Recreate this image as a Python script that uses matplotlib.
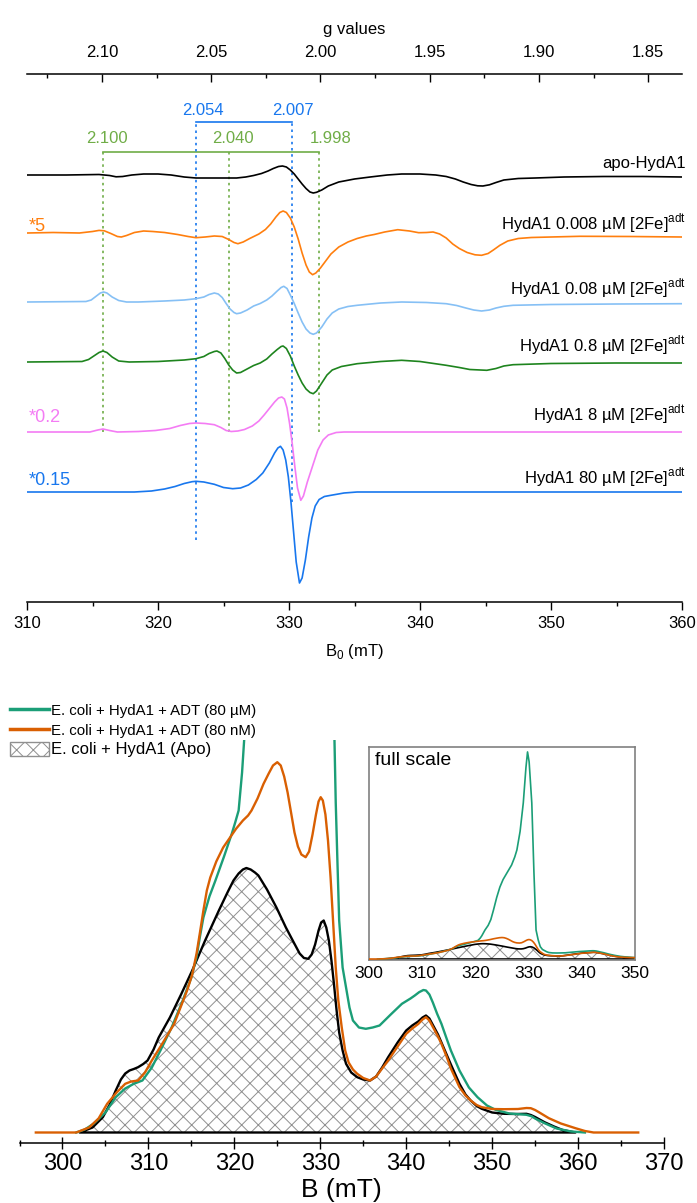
import numpy as np
import matplotlib
matplotlib.use('Agg')
import matplotlib.pyplot as plt
from matplotlib.lines import Line2D
from matplotlib.patches import Patch
from matplotlib.ticker import MultipleLocator, FixedLocator, FormatStrFormatter

plt.rcParams['font.family'] = ['Liberation Sans', 'DejaVu Sans']
plt.rcParams['mathtext.fontset'] = 'custom'
plt.rcParams['mathtext.rm'] = 'Liberation Sans'
plt.rcParams['hatch.linewidth'] = 0.7

# ---- top panel: CW EPR derivative spectra (B in mT, amplitude in arbitrary units)
apo = [(310, 0), (313, 0), (315.5, 0.5), (316.3, -0.5), (316.8, -1.8), (317.3, -1.5),
       (318.0, 0), (318.9, 1), (320.0, 1), (321.0, 0), (322.0, -2), (322.9, -3), (324.5, -3),
       (326.0, -3), (326.7, -2), (327.3, -0.5), (327.9, 1.5), (328.4, 4), (328.8, 6.5),
       (329.2, 8.5), (329.5, 9), (329.8, 8), (330.1, 5), (330.4, 1), (330.7, -4),
       (331.0, -9), (331.3, -13.5), (331.6, -17), (331.85, -18), (332.1, -17.3),
       (332.5, -15), (333.0, -11), (333.8, -7), (335.0, -4), (336.2, -2), (337.5, 0),
       (338.6, 1), (340.0, 1), (341.2, 0), (342.0, -1.5), (342.7, -4), (343.3, -7),
       (343.9, -9.5), (344.4, -10.8), (344.8, -11), (345.3, -9.8), (345.8, -7.5),
       (346.4, -5), (347.5, -3.5), (348.8, -3), (351, -2), (354, -1.5), (357, -1.5),
       (360, -2)]
c0008 = [(310, 0), (312, 0.5), (314, 0), (315.0, 1.5), (315.5, 2.6), (315.9, 2.2),
         (316.4, -0.5), (316.9, -3.5), (317.2, -4), (317.6, -2.5), (318.2, 0.5), (318.9, 2),
         (319.6, 1.5), (320.5, 0.5), (321.5, -1.5), (322.3, -3.5), (322.9, -4.7),
         (323.6, -4), (324.3, -3), (324.9, -3.5), (325.4, -6.5), (325.8, -9.5),
         (326.1, -10.7), (326.5, -9), (327.0, -5.5), (327.7, -1), (328.2, 3.5), (328.6, 9),
         (329.0, 16), (329.3, 20.5), (329.55, 22), (329.8, 20.5), (330.1, 15), (330.4, 6),
         (330.7, -6), (331.0, -20), (331.3, -32), (331.55, -39), (331.8, -41.7),
         (332.05, -40), (332.4, -35), (332.8, -28), (333.2, -21), (333.8, -14),
         (334.5, -9), (335.2, -5.5), (335.9, -3), (336.5, -1.5), (337.3, 1), (338.3, 3.3),
         (339.2, 2), (339.9, 0.3), (340.5, 0.5), (341.0, 1), (341.5, -1), (342.0, -5),
         (342.5, -11), (343.0, -15.5), (343.6, -19.5), (344.2, -21.8), (344.7, -22.3),
         (345.2, -20.5), (345.6, -17), (346.1, -12.3), (346.7, -8), (347.5, -5.5),
         (348.5, -4.5), (350, -4), (352.2, -3.3), (356, -3.5), (360, -4)]
c008 = [(310, 0), (314.5, 0.5), (314.9, 2), (315.3, 6), (315.6, 9), (315.85, 10),
        (316.1, 9), (316.5, 5), (317.0, 1.5), (317.6, 0), (318.5, 0), (320.5, 1), (322.0, 2),
        (322.9, 3.3), (323.5, 5), (323.9, 7.5), (324.3, 9), (324.6, 8), (324.9, 4.5),
        (325.2, -1.5), (325.5, -7), (325.8, -10.5), (326.0, -11.7), (326.3, -11),
        (326.8, -8), (327.3, -4), (327.8, -1.5), (328.3, 2), (328.7, 6), (329.1, 11),
        (329.4, 14.5), (329.6, 15.7), (329.85, 13.5), (330.1, 7), (330.4, -1.5),
        (330.7, -11), (331.0, -20), (331.3, -27), (331.6, -31), (331.85, -32.3),
        (332.1, -31), (332.5, -25), (332.9, -17), (333.3, -11), (333.8, -7), (334.5, -4.5),
        (335.2, -3.3), (337, -1), (338.6, 0), (340.5, -0.5), (342, -1.7), (342.8, -3.5),
        (343.5, -6), (344.1, -8), (344.7, -9), (345.3, -8), (345.8, -6), (346.4, -4.3),
        (347.1, -3.3), (350, -2.5), (355, -2), (360, -1.7)]
c08 = [(310, 0), (314.2, 0.5), (314.7, 2.5), (315.1, 6), (315.5, 9.5), (315.8, 11),
       (316.1, 9.5), (316.5, 5), (317.0, 1), (317.8, 0), (320, 0.5), (322.0, 2),
       (322.9, 3.3), (323.5, 5.5), (323.9, 8.5), (324.3, 10.5), (324.5, 11), (324.8, 9),
       (325.1, 3.5), (325.4, -3), (325.7, -8), (326.0, -11), (326.3, -10.5), (326.8, -7),
       (327.3, -3.5), (327.8, -1), (328.3, 3), (328.7, 8), (329.1, 12.5), (329.4, 15.5),
       (329.55, 16), (329.8, 13.5), (330.1, 6), (330.4, -4), (330.7, -13), (331.0, -21),
       (331.3, -27), (331.6, -30.5), (331.85, -31.7), (332.1, -29), (332.5, -21),
       (332.9, -13), (333.3, -8), (334.0, -4.5), (335.2, -1.7), (337, 0.5), (338.6, 1.7),
       (340, 0.5), (342, -3.3), (343.0, -5.5), (343.8, -7.5), (345.1, -8.3), (345.8, -6.5),
       (346.4, -4), (347.1, -2.7), (350, -1.5), (355, -1), (360, -1)]
c8 = [(310, 0), (314.8, 0), (315.4, 2), (315.8, 3), (316.3, 1.5), (316.9, 0), (318.5, 0.5),
      (319.8, 1.5), (320.9, 3.5), (321.7, 6.5), (322.4, 8.5), (322.9, 9), (323.6, 8.5),
      (324.3, 7.3), (324.8, 4.5), (325.2, 1.5), (325.6, 0.5), (326.1, 1), (326.6, 2.5),
      (327.2, 6), (327.7, 11), (328.1, 17), (328.5, 23.5), (328.9, 30), (329.2, 34),
      (329.45, 35), (329.65, 33), (329.85, 24), (330.05, 8), (330.25, -12), (330.45, -35),
      (330.65, -56), (330.9, -68.3), (331.1, -64), (331.4, -50), (331.8, -34),
      (332.2, -18), (332.6, -8), (333.0, -3), (333.6, -0.5), (334.2, 0), (360, 0)]
c80 = [(310, 0), (318.2, 0), (319.5, 1), (320.5, 3), (321.3, 5.5), (322.0, 8.5),
       (322.6, 10.3), (322.9, 10.7), (323.5, 10), (324.3, 7.7), (325.0, 4.5), (325.7, 3.3),
       (326.3, 4), (326.9, 7), (327.5, 12.5), (328.0, 19), (328.5, 29), (328.9, 39),
       (329.15, 44), (329.35, 45.7), (329.55, 42), (329.75, 32), (329.95, 15),
       (330.15, -10), (330.35, -40), (330.55, -70), (330.8, -91), (331.0, -86),
       (331.25, -68), (331.5, -45), (331.75, -26), (332.0, -14), (332.3, -7.5),
       (332.7, -4.5), (333.2, -3.3), (334.2, -1), (335.2, 0), (360, 0)]

top_names = ['apo-HydA1',
             r'HydA1 0.008 µM [2Fe]$^{\mathregular{adt}}$',
             r'HydA1 0.08 µM [2Fe]$^{\mathregular{adt}}$',
             r'HydA1 0.8 µM [2Fe]$^{\mathregular{adt}}$',
             r'HydA1 8 µM [2Fe]$^{\mathregular{adt}}$',
             r'HydA1 80 µM [2Fe]$^{\mathregular{adt}}$']
top_scale = ['', '*5', '', '', '*0.2', '*0.15']
top_colors = ['black', '#FF7F0E', '#86C0F5', '#1E841E', '#F47CF4', '#1877EE']

# g-value markers
green_g = ['2.100', '2.040', '1.998']
green_b = [315.8, 325.4, 332.3]
blue_g = ['2.054', '2.007']
blue_b = [322.9, 330.2]
g_ticks = [2.10, 2.05, 2.00, 1.95, 1.90, 1.85]
g_minor = [2.125, 2.075, 2.025, 1.975, 1.925, 1.875]

# ---- bottom panel: integrated spectra
apo_int = [(302.0, 0), (303.5, 5), (304.7, 15.3), (305.5, 28), (306.2, 42), (306.8, 53),
           (307.3, 59), (307.8, 62), (308.3, 63.5), (308.8, 65.3), (309.4, 68.5),
           (309.9, 72), (310.6, 83), (311.2, 95), (312.5, 115), (313.8, 138), (315.1, 162),
           (316.6, 192), (318.2, 222), (319.2, 240), (319.9, 252), (320.5, 259),
           (321.0, 263), (321.4, 264.5), (321.9, 263), (322.4, 260), (322.8, 257),
           (323.8, 243), (324.9, 225), (326.0, 205), (327.0, 188.7), (327.6, 179),
           (328.1, 174.5), (328.6, 173.7), (329.0, 178), (329.4, 188), (329.8, 202),
           (330.1, 210), (330.4, 212), (330.7, 205), (331.0, 192), (331.3, 172),
           (331.6, 148), (331.9, 122), (332.2, 100), (332.6, 82), (333.0, 68.7),
           (333.6, 60), (334.3, 55.3), (335.0, 53), (335.8, 52), (336.5, 56), (337.2, 65),
           (337.9, 75.3), (339.0, 90), (340.0, 102), (340.7, 107), (341.4, 111),
           (341.9, 115), (342.3, 117), (342.7, 114), (343.2, 106), (343.7, 98),
           (344.1, 90), (344.7, 78), (345.2, 68), (346.2, 48.7), (346.9, 38), (347.5, 32),
           (348.2, 26.5), (348.8, 23.7), (350.0, 20), (351.4, 18.7), (352.8, 18.5),
           (354.0, 18.7), (354.5, 17.5), (355.0, 15.5), (356.1, 10.3), (357.2, 6),
           (358.2, 2.5), (359.7, 0)]
nm80_int = [(296.9, 0), (301.6, 0), (303.1, 5), (304.2, 14), (305.2, 28.7), (306.3, 40),
            (307.3, 48.7), (308.0, 51), (308.8, 52), (309.6, 60), (310.4, 72), (311.7, 90),
            (313.0, 108.7), (314.5, 142), (315.1, 158), (315.6, 178.7), (316.0, 200),
            (316.4, 222), (316.8, 242), (317.2, 255), (317.9, 271), (318.7, 285),
            (319.5, 295), (320.2, 303.7), (321.0, 312), (321.6, 317), (322.0, 322),
            (322.7, 334), (323.4, 348.7), (324.0, 359), (324.5, 367), (325.0, 370.3),
            (325.4, 367), (325.8, 356), (326.2, 340), (326.6, 320), (327.0, 300),
            (327.4, 286), (327.8, 278), (328.3, 275.3), (328.7, 281), (329.1, 298),
            (329.5, 318), (329.8, 331), (330.05, 335.3), (330.3, 332), (330.6, 318),
            (330.9, 292), (331.2, 255), (331.5, 210), (331.8, 165), (332.1, 132),
            (332.5, 105), (332.9, 82), (333.3, 70), (333.8, 63), (334.3, 58.7),
            (335.0, 54.5), (335.8, 52), (336.5, 56), (337.2, 64), (337.9, 72), (339.0, 86),
            (340.0, 98.7), (340.7, 104), (341.4, 108.5), (341.9, 113), (342.3, 115.3),
            (342.7, 112), (343.2, 104), (343.7, 96), (344.1, 88.7), (344.7, 76),
            (345.2, 64), (346.2, 45.3), (346.9, 37), (347.5, 32), (348.2, 27.5),
            (348.8, 25.3), (350.0, 23.5), (351.4, 23.3), (353.0, 23.5), (354.0, 24.5),
            (354.5, 24.3), (355.0, 22.5), (355.5, 20), (356.6, 14.3), (358.0, 9),
            (359.7, 4.3), (360.8, 1.5), (361.8, 0), (367.0, 0)]
um80_int = [(301.6, 0), (302.6, 3), (303.6, 8.7), (305.0, 20), (306.2, 35.3), (307.3, 44),
            (308.3, 48.7), (309.3, 52), (310.4, 65), (311.4, 82), (312.7, 105), (314.0, 132),
            (315.0, 155), (315.6, 175.3), (316.0, 196), (316.4, 215), (317.1, 236),
            (317.8, 252), (318.8, 276), (319.7, 298.7), (320.1, 310), (320.5, 322),
            (320.9, 360), (321.2, 400), (321.8, 500), (322.4, 580), (322.9, 680),
            (323.4, 845), (324.0, 1060), (324.6, 1240), (325.2, 1370), (325.9, 1480),
            (326.8, 1620), (327.4, 1760), (327.8, 1880), (328.4, 2200), (329.0, 2690),
            (329.5, 3300), (329.8, 3570), (330.1, 3400), (330.6, 2690), (331.0, 1500),
            (331.4, 500), (331.8, 330), (332.0, 270), (332.2, 212), (332.6, 165),
            (333.0, 145), (333.4, 125), (333.8, 112), (334.5, 105), (335.3, 103.7),
            (336.1, 105), (336.9, 107), (338.2, 118), (339.5, 128.7), (340.5, 134),
            (341.0, 137), (341.5, 140.3), (342.0, 142.5), (342.3, 142), (342.7, 138),
            (343.1, 130), (343.6, 118.7), (344.1, 108.7), (344.7, 94), (345.2, 82),
            (346.2, 62), (347.3, 45), (348.3, 35.3), (349.4, 27), (350.4, 22.7), (352, 19),
            (354, 17.7), (354.6, 16.2), (355.0, 14), (356.1, 9.3), (357.5, 4), (359.2, 1),
            (360.8, 0)]
legend_labels = ['E. coli + HydA1 + ADT (80 µM)', 'E. coli + HydA1 + ADT (80 nM)',
                 'E. coli + HydA1 (Apo)']

GREEN = '#1B9E77'
ORANGE = '#D95F02'
HATCH = '#8f8f8f'
G_GREEN = '#70AD47'
G_BLUE = '#1877EE'


def b2g(b):
    return 2.10 - (b - 315.72) / 166.8


def g2b(g):
    return 315.72 + (2.10 - g) * 166.8


def main():
    fig = plt.figure(figsize=(6.97, 12.03), dpi=100)
    W, H = 697, 1203

    # ---------------- top panel
    ax1 = fig.add_axes([27 / W, 1 - 602 / H, 655 / W, 528 / H])
    ax1.set_xlim(310, 360)
    ax1.set_ylim(0, 528)
    offsets = [427, 369, 300, 240, 170, 110]
    label_y = [434, 373, 308, 251, 182, 119]
    spectra = [apo, c0008, c008, c08, c8, c80]
    for pts, off, col, name, sc, ly in zip(spectra, offsets, top_colors,
                                           top_names, top_scale, label_y):
        b, y = np.array(pts).T
        ax1.plot(b, y + off, color=col, lw=1.2, zorder=3)
        ax1.text(360.3, ly, name, ha='right', va='baseline', fontsize=12)
        if sc:
            ax1.text(310.1, ly - 2, sc, ha='left', va='baseline', fontsize=13, color=col)

    dot = (0, (1.5, 2.2))
    ax1.plot([min(green_b), max(green_b)], [450, 450], color=G_GREEN, lw=1.2)
    ax1.vlines(green_b, 170, 450, colors=G_GREEN, linestyles=[dot], lw=1.2)
    for lbl, b, dx in zip(green_g, green_b, [0.3, 0.3, 0.9]):
        ax1.text(b + dx, 459, lbl, ha='center', va='baseline', fontsize=12, color=G_GREEN)
    ax1.plot([min(blue_b), max(blue_b)], [480, 480], color=G_BLUE, lw=1.2)
    ax1.vlines(blue_b, [62, 100], 480, colors=G_BLUE, linestyles=[dot], lw=1.2)
    for lbl, b, dx in zip(blue_g, blue_b, [0.5, 0.1]):
        ax1.text(b + dx, 487, lbl, ha='center', va='baseline', fontsize=12, color=G_BLUE)

    for s in ['left', 'right', 'top']:
        ax1.spines[s].set_visible(False)
    ax1.spines['bottom'].set_linewidth(1.1)
    ax1.set_yticks([])
    ax1.xaxis.set_major_locator(MultipleLocator(10))
    ax1.xaxis.set_minor_locator(MultipleLocator(5))
    ax1.tick_params(axis='x', which='major', direction='out', length=6, width=1.0,
                    labelsize=12, pad=4)
    ax1.tick_params(axis='x', which='minor', direction='out', length=3, width=1.0)
    ax1.set_xlabel(r'B$_{\mathregular{0}}$ (mT)', fontsize=12, labelpad=8)

    sec = ax1.secondary_xaxis('top', functions=(b2g, g2b))
    sec.spines['top'].set_linewidth(1.1)
    sec.xaxis.set_major_locator(FixedLocator(g_ticks))
    sec.xaxis.set_minor_locator(FixedLocator(g_minor))
    sec.xaxis.set_major_formatter(FormatStrFormatter('%.2f'))
    sec.tick_params(axis='x', which='major', direction='in', length=6, width=1.0,
                    labelsize=12, pad=10)
    sec.tick_params(axis='x', which='minor', direction='in', length=3, width=1.0)
    sec.set_xlabel('g values', fontsize=12, labelpad=8)

    # ---------------- bottom panel
    ax2 = fig.add_axes([19.5 / W, 1 - 1143 / H, 644.5 / W, 403 / H])
    ax2.set_xlim(295, 370)
    ax2.set_ylim(-10.5, 392.5)

    def draw(ax, lw):
        b, y = np.array(apo_int).T
        ax.fill_between(b, 0, y, facecolor='white', edgecolor=HATCH, hatch='xx',
                        linewidth=0, zorder=1)
        ax.fill_between(b, 0, y, facecolor='none', edgecolor='black', linewidth=lw,
                        zorder=2)
        b, y = np.array(um80_int).T
        ax.plot(b, y, color=GREEN, lw=lw, zorder=3)
        b, y = np.array(nm80_int).T
        ax.plot(b, y, color=ORANGE, lw=lw, zorder=4)

    draw(ax2, 1.7)
    for s in ['left', 'right', 'top']:
        ax2.spines[s].set_visible(False)
    ax2.spines['bottom'].set_linewidth(1.1)
    ax2.set_yticks([])
    ax2.xaxis.set_minor_locator(MultipleLocator(5))
    ax2.set_xticks(np.arange(300, 371, 10))
    ax2.tick_params(axis='x', which='major', direction='inout', length=8, width=1.0,
                    labelsize=17, pad=3)
    ax2.tick_params(axis='x', which='minor', direction='inout', length=5, width=1.0)
    ax2.set_xlabel('B (mT)', fontsize=19, labelpad=2)

    handles = [Line2D([], [], color=GREEN, lw=2.5),
               Line2D([], [], color=ORANGE, lw=2.5),
               Patch(facecolor='white', edgecolor=HATCH, hatch='xx')]
    leg = fig.legend(handles, legend_labels, loc='upper left',
                     bbox_to_anchor=(10 / W, 1 - 703 / H), frameon=False,
                     fontsize=10.8, handlelength=2.6, handleheight=1.1,
                     handletextpad=0.15, labelspacing=0.28, borderpad=0,
                     borderaxespad=0)
    leg.get_texts()[2].set_fontsize(12)

    # ---------------- inset
    ax3 = fig.add_axes([369 / W, 1 - 960 / H, 266 / W, 213 / H])
    ax3.set_xlim(300, 350)
    ax3.set_ylim(-17, 3655)
    draw(ax3, 1.2)
    for s in ax3.spines.values():
        s.set_color('#808080')
        s.set_linewidth(1.2)
    ax3.set_yticks([])
    ax3.set_xticks(np.arange(300, 351, 10))
    ax3.tick_params(axis='x', length=0, labelsize=12.5, pad=4)
    ax3.text(0.022, 0.975, 'full scale', transform=ax3.transAxes, ha='left', va='top',
             fontsize=14)

    fig.savefig('out.png', dpi=100)


if __name__ == '__main__':
    main()
